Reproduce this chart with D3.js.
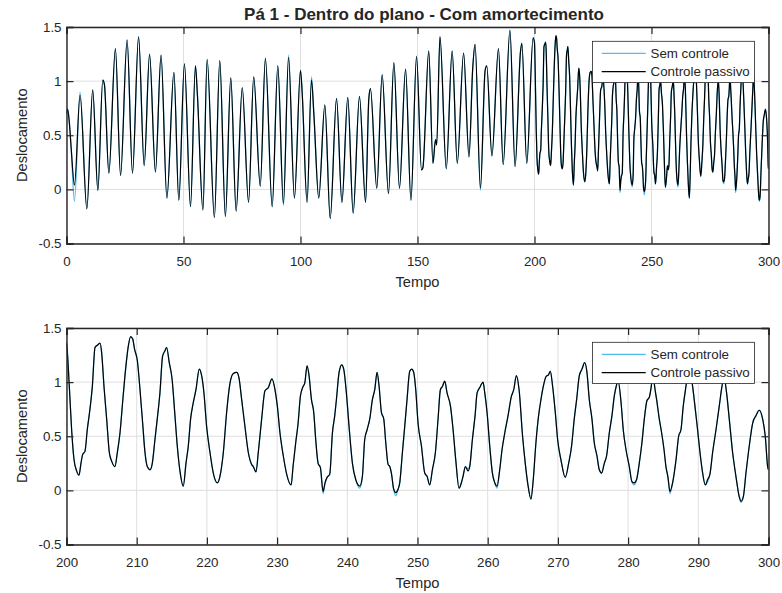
<!DOCTYPE html>
<html>
<head>
<meta charset="utf-8">
<script src="https://cdn.jsdelivr.net/npm/d3@7"></script>
<style>
  body { margin: 0; background: #ffffff; }
  text { font-family: "Liberation Sans", Arial, Helvetica, sans-serif; fill: #262626; }
</style>
</head>
<body>
<svg id="chart" width="782" height="593"></svg>
<script>
// Tempo (s) of each sample
const tempo = [
  0, 0.5, 1.2, 2.0, 3.4, 5.8, 8.7, 11.2, 13.4, 15.5,
  16.2, 18.1, 20.9, 23.1, 25.9, 28.2, 30.8, 33.2, 35.5, 38.0,
  40.4, 42.9, 45.9, 48.0, 50.4, 53.0, 55.1, 55.9, 58.3, 60.1,
  63.2, 65.5, 67.9, 70.2, 72.5, 75.1, 77.8, 80.0, 82.8, 85.0,
  87.9, 90.3, 92.7, 94.9, 97.4, 100.0, 100.7, 102.8, 104.7, 105.7,
  107.8, 110.4, 112.7, 115.4, 117.7, 120.2, 122.5, 125.2, 127.8, 129.2,
  129.9, 132.6, 134.9, 137.6, 139.9, 142.3, 144.9, 147.2, 149.6, 151.7,
  152.3, 154.8, 156.6, 157.7, 158.2, 159.6, 162.3, 164.8, 167.0, 169.7,
  172.0, 173.6, 174.6, 176.9, 178.9, 179.6, 181.8, 184.6, 186.6, 189.5,
  191.7, 194.0, 194.6, 196.7, 199.4,
  200.0, 200.4, 200.73, 201.06, 201.44, 201.78, 202.06, 202.3, 202.63, 202.96,
  203.34, 203.68, 204.06, 204.39, 204.77, 205.01, 205.34, 205.72, 206.1, 206.43,
  206.9, 207.24, 207.62, 207.99, 208.42, 208.8, 209.14, 209.42, 209.71, 210.09,
  210.47, 210.85, 211.18, 211.51, 211.89, 212.22, 212.6, 212.98, 213.31, 213.69,
  214.03, 214.26, 214.64, 215.02, 215.45, 215.78, 216.16, 216.64, 217.02, 217.35,
  217.68, 218.06, 218.44, 218.92, 219.25, 219.58, 219.96, 220.44, 220.91, 221.48,
  221.86, 222.34, 222.81, 223.29, 223.76, 224.24, 224.57, 224.95, 225.42, 225.9,
  226.37, 226.61, 226.99, 227.32, 227.8, 228.27, 228.75, 229.27, 229.7, 230.03,
  230.41, 230.88, 231.36, 232.0, 232.27, 232.65, 232.99, 233.32, 233.7, 233.94,
  234.27, 234.55, 234.89, 235.22, 235.5, 235.84, 236.17, 236.55, 236.83, 237.12,
  237.5, 237.88, 238.21, 238.45, 238.83, 239.21, 239.49, 239.87, 240.25, 240.73,
  241.2, 241.77, 242.15, 242.48, 242.82, 243.2, 243.58, 243.91, 244.24, 244.53,
  244.86, 245.19, 245.48, 245.81, 246.05, 246.28, 246.61, 246.9, 247.23, 247.47,
  247.85, 248.18, 248.51, 248.89, 249.18, 249.46, 249.75, 250.08, 250.56, 251.03,
  251.36, 251.74, 252.12, 252.55, 252.93, 253.26, 253.55, 253.88, 254.21, 254.69,
  255.07, 255.45, 255.92, 256.25, 256.49, 256.82, 257.2, 257.44, 257.82, 258.2,
  258.49, 258.87, 259.1, 259.34, 259.58, 259.91, 260.29, 260.67, 261.0, 261.33,
  261.71, 262.05, 262.43, 262.9, 263.38, 263.71, 264.09, 264.47, 264.97, 265.35,
  265.69, 266.16, 266.49, 266.87, 267.25, 267.59, 267.92, 268.3, 268.68, 268.92,
  269.25, 269.63, 269.96, 270.44, 271.05, 271.53, 271.95, 272.33, 272.67, 273.05,
  273.43, 273.81, 274.14, 274.47, 274.85, 275.18, 275.56, 275.9, 276.23, 276.61,
  276.94, 277.32, 277.7, 278.03, 278.37, 278.55, 279.0, 279.31, 279.69, 280.17,
  280.55, 280.88, 281.21, 281.59, 281.97, 282.31, 282.69, 283.02, 283.3, 283.55,
  283.78, 284.06, 284.44, 284.78, 285.11, 285.39, 285.68, 285.96, 286.34, 286.82,
  287.2, 287.53, 287.86, 288.24, 288.7, 289.19, 289.52, 289.9, 290.24, 290.62,
  290.99, 291.33, 291.66, 292.04, 292.52, 292.99, 293.37, 293.65, 294.03, 294.41,
  294.89, 295.36, 295.84, 296.08, 296.41, 296.79, 297.26, 297.74, 298.21, 298.69,
  299.16, 299.54, 299.88, 300.0
];

// Deslocamento sem controle
const semControle = [
  0.75, 0.74, 0.62, 0.38, -0.11, 0.90, -0.18, 0.92, -0.01, 1.01,
  0.97, 0.15, 1.30, 0.13, 1.38, 0.15, 1.41, 0.22, 1.25, 0.16,
  1.24, -0.08, 1.08, -0.10, 1.16, -0.16, 1.14, 0.89, -0.19, 1.20,
  -0.26, 1.19, -0.25, 1.03, -0.20, 0.94, -0.12, 1.04, 0.03, 1.21,
  -0.16, 1.14, -0.15, 1.24, -0.08, 1.10, 0.90, -0.12, 1.04, 0.70,
  -0.08, 0.78, -0.27, 0.84, -0.12, 0.85, -0.22, 0.86, -0.12, 0.84,
  0.93, 0.01, 1.06, -0.04, 1.17, 0.01, 1.11, -0.10, 1.23, 0.18,
  0.20, 1.28, 0.24, 0.46, 0.41, 1.41, 0.19, 1.28, 0.24, 1.26,
  0.30, 1.12, 1.34, -0.01, 1.10, 1.14, 0.31, 1.30, 0.23, 1.47,
  0.21, 1.27, 1.35, 0.24, 1.40,
  1.37, 0.96, 0.56, 0.29, 0.18, 0.14, 0.25, 0.33, 0.36, 0.56,
  0.75, 0.96, 1.32, 1.34, 1.36, 1.27, 0.96, 0.66, 0.35, 0.27,
  0.22, 0.35, 0.53, 0.81, 1.12, 1.33, 1.42, 1.40, 1.30, 1.20,
  0.93, 0.62, 0.35, 0.22, 0.19, 0.25, 0.47, 0.69, 0.90, 1.24,
  1.29, 1.32, 1.18, 1.04, 0.69, 0.41, 0.18, 0.04, 0.25, 0.41,
  0.66, 0.81, 0.93, 1.12, 1.06, 0.90, 0.59, 0.35, 0.16, 0.07,
  0.13, 0.35, 0.72, 0.99, 1.08, 1.09, 1.04, 0.84, 0.59, 0.35,
  0.24, 0.22, 0.17, 0.35, 0.66, 0.92, 0.95, 1.03, 0.93, 0.78,
  0.53, 0.32, 0.15, 0.05, 0.22, 0.44, 0.62, 0.87, 0.96, 0.99,
  1.15, 1.06, 0.84, 0.72, 0.47, 0.25, 0.21, -0.03, 0.07, 0.12,
  0.15, 0.53, 0.69, 0.84, 1.09, 1.16, 1.12, 0.90, 0.59, 0.25,
  0.10, 0.02, 0.13, 0.47, 0.56, 0.66, 0.84, 0.93, 1.09, 0.96,
  0.72, 0.66, 0.44, 0.24, 0.22, 0.16, 0.01, -0.05, 0.01, 0.07,
  0.35, 0.59, 0.84, 1.10, 1.12, 1.09, 0.93, 0.62, 0.41, 0.16,
  0.13, 0.05, 0.19, 0.35, 0.66, 0.93, 0.96, 1.01, 0.90, 0.78,
  0.56, 0.28, 0.02, 0.07, 0.13, 0.22, 0.20, 0.22, 0.47, 0.69,
  0.90, 0.95, 0.98, 1.00, 0.90, 0.72, 0.41, 0.16, 0.07, 0.02,
  0.19, 0.38, 0.53, 0.69, 0.87, 0.93, 1.06, 0.93, 0.50, 0.25,
  0.07, -0.08, 0.10, 0.44, 0.69, 0.84, 0.96, 1.05, 1.07, 1.10,
  0.96, 0.72, 0.47, 0.28, 0.12, 0.25, 0.41, 0.66, 0.84, 1.06,
  1.12, 1.18, 1.09, 0.84, 0.66, 0.44, 0.32, 0.19, 0.16, 0.25,
  0.32, 0.53, 0.69, 0.87, 0.98, 1.02, 0.81, 0.56, 0.38, 0.22,
  0.08, 0.05, 0.10, 0.25, 0.44, 0.66, 0.83, 0.86, 0.96, 1.10,
  0.96, 0.84, 0.66, 0.53, 0.38, 0.22, 0.12, -0.03, 0.07, 0.28,
  0.50, 0.56, 0.78, 0.96, 1.14, 0.96, 0.78, 0.56, 0.35, 0.16,
  0.05, 0.08, 0.15, 0.35, 0.56, 0.78, 0.96, 1.05, 0.90, 0.66,
  0.35, 0.13, -0.06, -0.11, -0.06, 0.16, 0.41, 0.62, 0.69, 0.74,
  0.66, 0.50, 0.22, 0.19
];

// Deslocamento com controle passivo
const controlePassivo = [
  0.70, 0.74, 0.62, 0.38, 0.04, 0.87, -0.18, 0.92, -0.01, 1.01,
  0.97, 0.15, 1.30, 0.13, 1.38, 0.15, 1.41, 0.22, 1.25, 0.16,
  1.24, -0.08, 1.08, -0.10, 1.16, -0.16, 1.14, 0.89, -0.19, 1.20,
  -0.26, 1.19, -0.25, 1.03, -0.20, 0.94, -0.12, 1.04, 0.03, 1.21,
  -0.16, 1.14, -0.13, 1.22, -0.08, 1.10, 0.90, -0.12, 1.01, 0.70,
  -0.08, 0.78, -0.27, 0.84, -0.12, 0.85, -0.22, 0.86, -0.12, 0.84,
  0.93, 0.01, 1.06, -0.04, 1.17, 0.01, 1.11, -0.10, 1.23, 0.18,
  0.20, 1.28, 0.24, 0.46, 0.41, 1.41, 0.19, 1.28, 0.24, 1.26,
  0.30, 1.12, 1.34, 0.01, 1.10, 1.14, 0.31, 1.30, 0.23, 1.47,
  0.21, 1.27, 1.35, 0.24, 1.40,
  1.35, 0.96, 0.56, 0.29, 0.18, 0.14, 0.25, 0.33, 0.36, 0.56,
  0.75, 0.96, 1.32, 1.34, 1.36, 1.27, 0.96, 0.66, 0.35, 0.27,
  0.22, 0.35, 0.53, 0.81, 1.12, 1.33, 1.42, 1.40, 1.30, 1.20,
  0.93, 0.62, 0.35, 0.22, 0.19, 0.25, 0.47, 0.69, 0.90, 1.24,
  1.29, 1.32, 1.18, 1.04, 0.69, 0.41, 0.18, 0.04, 0.25, 0.41,
  0.66, 0.81, 0.93, 1.12, 1.06, 0.90, 0.59, 0.35, 0.16, 0.07,
  0.13, 0.35, 0.72, 0.99, 1.08, 1.09, 1.04, 0.84, 0.59, 0.35,
  0.24, 0.22, 0.17, 0.35, 0.66, 0.92, 0.95, 1.03, 0.93, 0.78,
  0.53, 0.32, 0.15, 0.05, 0.22, 0.44, 0.62, 0.87, 0.96, 0.99,
  1.15, 1.06, 0.84, 0.72, 0.47, 0.25, 0.21, -0.01, 0.07, 0.12,
  0.15, 0.53, 0.69, 0.84, 1.09, 1.16, 1.12, 0.90, 0.59, 0.25,
  0.10, 0.04, 0.13, 0.47, 0.56, 0.66, 0.84, 0.93, 1.09, 0.96,
  0.72, 0.66, 0.44, 0.24, 0.22, 0.16, 0.01, -0.02, 0.01, 0.07,
  0.35, 0.59, 0.84, 1.10, 1.12, 1.09, 0.93, 0.62, 0.41, 0.16,
  0.13, 0.05, 0.19, 0.35, 0.66, 0.93, 0.96, 1.01, 0.90, 0.78,
  0.56, 0.28, 0.02, 0.07, 0.13, 0.22, 0.18, 0.22, 0.47, 0.69,
  0.90, 0.95, 0.98, 1.00, 0.90, 0.72, 0.41, 0.16, 0.07, 0.04,
  0.19, 0.38, 0.53, 0.69, 0.87, 0.93, 1.06, 0.93, 0.50, 0.25,
  0.07, -0.08, 0.10, 0.44, 0.69, 0.84, 0.96, 1.05, 1.07, 1.10,
  0.96, 0.72, 0.47, 0.28, 0.12, 0.25, 0.41, 0.66, 0.84, 1.06,
  1.12, 1.18, 1.09, 0.84, 0.66, 0.44, 0.32, 0.19, 0.16, 0.25,
  0.32, 0.53, 0.69, 0.87, 0.98, 1.02, 0.81, 0.56, 0.38, 0.22,
  0.08, 0.07, 0.10, 0.25, 0.44, 0.66, 0.83, 0.86, 0.96, 1.10,
  0.96, 0.84, 0.66, 0.53, 0.38, 0.22, 0.12, -0.01, 0.07, 0.28,
  0.50, 0.56, 0.78, 0.96, 1.14, 0.96, 0.78, 0.56, 0.35, 0.16,
  0.05, 0.10, 0.15, 0.35, 0.56, 0.78, 0.96, 1.05, 0.90, 0.66,
  0.35, 0.13, -0.06, -0.10, -0.06, 0.16, 0.41, 0.62, 0.69, 0.74,
  0.66, 0.50, 0.22, 0.19
];

const serieNomes = ["Sem controle", "Controle passivo"];
const serieCores = ["#4DBEEE", "#000000"];
const yTicks = [-0.5, 0, 0.5, 1, 1.5];
const xTicksGeral = [0, 50, 100, 150, 200, 250, 300];
const xTicksZoom = [200, 210, 220, 230, 240, 250, 260, 270, 280, 290, 300];
const titulo = "Pá 1 - Dentro do plano - Com amortecimento";
const rotuloX = "Tempo";
const rotuloY = "Deslocamento";

const series = [semControle, controlePassivo].map((vals, i) => ({
  nome: serieNomes[i],
  cor: serieCores[i],
  pontos: tempo.map((t, k) => ({ t: t, v: vals[k] }))
}));

const svg = d3.select("#chart");
const AX_L = 66.5, AX_R = 768.5, AX_H = 216.5;
const EIXO = "#262626";

function painel(id, topo, dominioX, ticksX, comTitulo) {
  const x = d3.scaleLinear().domain(dominioX).range([AX_L, AX_R]);
  const y = d3.scaleLinear().domain([-0.5, 1.5]).range([topo + AX_H, topo]);
  const g = svg.append("g");

  svg.append("defs").append("clipPath").attr("id", "clip-" + id)
    .append("rect").attr("x", AX_L).attr("y", topo).attr("width", AX_R - AX_L).attr("height", AX_H);

  // grade
  g.append("g").selectAll("line").data(ticksX).join("line")
    .attr("x1", d => x(d)).attr("x2", d => x(d))
    .attr("y1", topo).attr("y2", topo + AX_H)
    .attr("stroke", "#dfdfdf").attr("stroke-width", 1);
  g.append("g").selectAll("line").data(yTicks).join("line")
    .attr("x1", AX_L).attr("x2", AX_R)
    .attr("y1", d => y(d)).attr("y2", d => y(d))
    .attr("stroke", "#dfdfdf").attr("stroke-width", 1);

  // curvas
  const linha = d3.line().x(d => x(d.t)).y(d => y(d.v)).curve(d3.curveMonotoneX);
  const curvas = g.append("g").attr("clip-path", "url(#clip-" + id + ")");
  series.forEach((s, i) => {
    curvas.append("path")
      .attr("d", linha(s.pontos.filter(p => p.t >= dominioX[0] - 1 && p.t <= dominioX[1] + 1)))
      .attr("fill", "none")
      .attr("stroke", s.cor)
      .attr("stroke-width", i === 0 ? 1.3 : 1.2)
      .attr("stroke-linejoin", "round");
  });

  // eixos (ticks para dentro, caixa fechada)
  const tick = 7;
  const eixoX = g.append("g").attr("transform", `translate(0,${topo + AX_H})`)
    .call(d3.axisBottom(x).tickValues(ticksX).tickSize(-tick).tickPadding(13).tickFormat(d3.format("d")));
  const eixoXTopo = g.append("g").attr("transform", `translate(0,${topo})`)
    .call(d3.axisTop(x).tickValues(ticksX).tickSize(-tick).tickFormat(""));
  const eixoY = g.append("g").attr("transform", `translate(${AX_L},0)`)
    .call(d3.axisLeft(y).tickValues(yTicks).tickSize(-tick).tickPadding(5).tickFormat(d => d));
  const eixoYDir = g.append("g").attr("transform", `translate(${AX_R},0)`)
    .call(d3.axisRight(y).tickValues(yTicks).tickSize(-tick).tickFormat(""));
  [eixoX, eixoXTopo, eixoY, eixoYDir].forEach(a => {
    a.select(".domain").attr("stroke", EIXO).attr("stroke-width", 1.4);
    a.selectAll(".tick line").attr("stroke", EIXO).attr("stroke-width", 1.2);
    a.selectAll("text").attr("fill", EIXO).style("font-size", "13.33px")
      .style("font-family", '"Liberation Sans", Arial, sans-serif');
  });
  eixoX.selectAll("text").attr("dy", "0.71em");

  // rótulos
  g.append("text").attr("x", (AX_L + AX_R) / 2).attr("y", topo + AX_H + 43.5)
    .attr("text-anchor", "middle").style("font-size", "14.67px").text(rotuloX);
  g.append("text").attr("transform", `translate(26.5,${topo + AX_H / 2}) rotate(-90)`)
    .attr("text-anchor", "middle").style("font-size", "14.67px").text(rotuloY);
  if (comTitulo) {
    g.append("text").attr("x", 424).attr("y", 19.5)
      .attr("text-anchor", "middle").style("font-size", "17px").style("font-weight", "bold")
      .attr("fill", "#000").text(titulo);
  }

  // legenda
  const lx = 592.5, ly = topo + 14.3, lw = 162, lh = 41.3;
  const leg = g.append("g");
  leg.append("rect").attr("x", lx).attr("y", ly).attr("width", lw).attr("height", lh)
    .attr("fill", "#ffffff").attr("stroke", EIXO).attr("stroke-width", 0.8);
  series.forEach((s, i) => {
    const yy = ly + 12 + i * 18.4;
    leg.append("line").attr("x1", lx + 9.2).attr("x2", lx + 53.2).attr("y1", yy).attr("y2", yy)
      .attr("stroke", s.cor).attr("stroke-width", 1.2);
    leg.append("text").attr("x", lx + 58).attr("y", yy).attr("dy", "0.35em")
      .style("font-size", "13.33px").text(s.nome);
  });
}

painel("geral", 27, [0, 300], xTicksGeral, true);
painel("zoom", 328, [200, 300], xTicksZoom, false);
</script>
</body>
</html>
